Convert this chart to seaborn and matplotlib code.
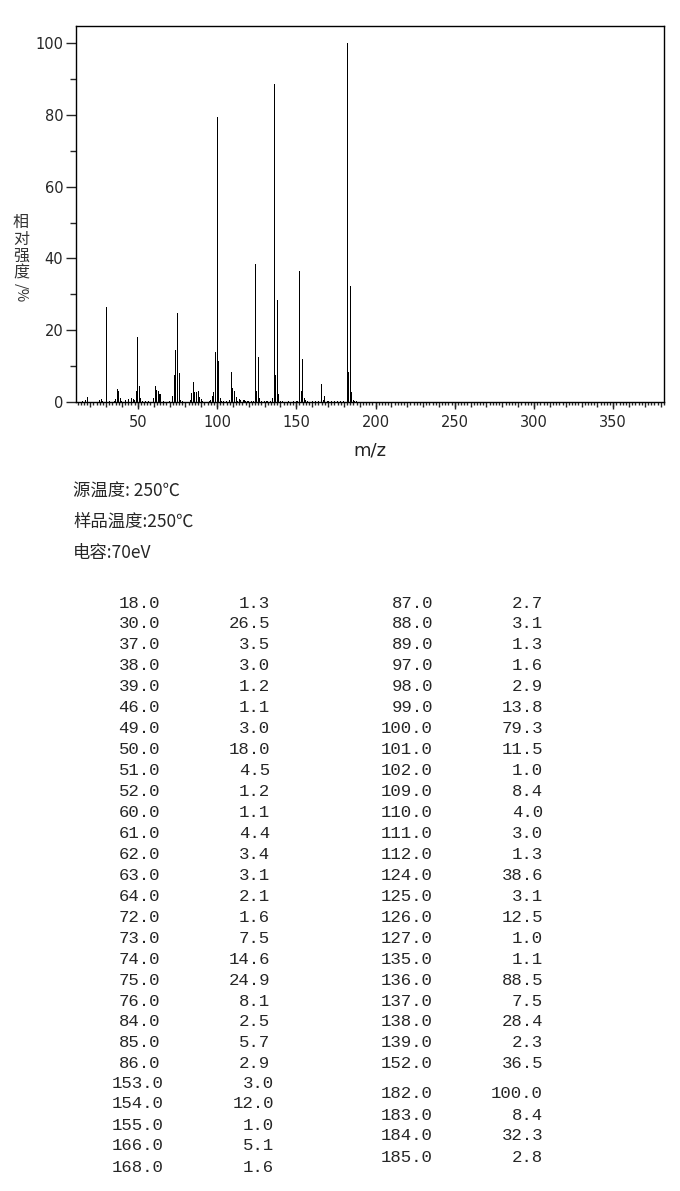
import numpy as np
import pandas as pd
import matplotlib
matplotlib.use("Agg")
import matplotlib.pyplot as plt
from matplotlib.ticker import MultipleLocator, FixedLocator, NullFormatter
import seaborn as sns

# listed peaks (table), left column
left_mz = [18, 30, 37, 38, 39, 46, 49, 50, 51, 52, 60, 61, 62, 63, 64, 72, 73, 74, 75, 76, 84, 85, 86]
left_int = [1.3, 26.5, 3.5, 3.0, 1.2, 1.1, 3.0, 18.0, 4.5, 1.2, 1.1, 4.4, 3.4, 3.1, 2.1, 1.6, 7.5, 14.6, 24.9, 8.1, 2.5, 5.7, 2.9]
# right column
right_mz = [87, 88, 89, 97, 98, 99, 100, 101, 102, 109, 110, 111, 112, 124, 125, 126, 127, 135, 136, 137, 138, 139, 152]
right_int = [2.7, 3.1, 1.3, 1.6, 2.9, 13.8, 79.3, 11.5, 1.0, 8.4, 4.0, 3.0, 1.3, 38.6, 3.1, 12.5, 1.0, 1.1, 88.5, 7.5, 28.4, 2.3, 36.5]
# trailing blocks
tail_left_mz = [153, 154, 155, 166, 168]
tail_left_int = [3.0, 12.0, 1.0, 5.1, 1.6]
tail_right_mz = [182, 183, 184, 185]
tail_right_int = [100.0, 8.4, 32.3, 2.8]

# small unlisted peaks seen on the spectrum (estimated)
minor_mz = [15, 17, 26, 27, 28, 32, 35, 36, 40, 42, 44, 47, 48, 53, 55, 57, 66, 70, 77, 78, 83,
            90, 91, 95, 96, 103, 104, 106, 108, 113, 114, 115, 117, 118, 119, 120, 122, 123,
            128, 130, 131, 132, 134, 140, 141, 145, 148, 150, 151, 156, 157, 160, 162, 164,
            167, 170, 172, 174, 176, 178, 180, 186, 187, 188]
minor_int = [0.4, 0.5, 0.5, 0.7, 0.4, 0.3, 0.3, 0.8, 0.4, 0.6, 0.9, 0.8, 0.6, 0.4, 0.3, 0.3, 0.4, 0.4, 0.5, 0.3, 0.5,
             0.7, 0.4, 0.4, 0.5, 0.4, 0.3, 0.3, 0.6, 0.4, 0.9, 0.5, 0.5, 0.3, 0.4, 0.4, 0.3, 0.4,
             0.3, 0.3, 0.4, 0.3, 0.4, 0.4, 0.3, 0.3, 0.4, 0.3, 0.4, 0.5, 0.3, 0.3, 0.4, 0.3,
             0.6, 0.3, 0.4, 0.3, 0.3, 0.4, 0.3, 0.5, 0.4, 0.3]

W, H = 680, 1191

sns.set_style("ticks")
plt.rcParams['font.family'] = ['DejaVu Sans', 'Noto Sans CJK SC']

df = pd.DataFrame({
    "mz": left_mz + right_mz + tail_left_mz + tail_right_mz + minor_mz,
    "inten": left_int + right_int + tail_left_int + tail_right_int + minor_int,
}).sort_values("mz")

fig = plt.figure(figsize=(W / 100, H / 100), dpi=100)
ax = fig.add_axes([76 / W, 1 - 402 / H, (664 - 76) / W, (402 - 26) / H])

sns.barplot(data=df, x="mz", y="inten", native_scale=True, color="black",
            width=0.65, linewidth=0, errorbar=None, antialiased=False, ax=ax)

ax.set_xlim(11, 382)
ax.set_ylim(0, 104.8)
for s in ax.spines.values():
    s.set_color("black")
    s.set_linewidth(1)

px = 0.72  # points per pixel
ax.yaxis.set_major_locator(MultipleLocator(20))
ax.yaxis.set_minor_locator(MultipleLocator(10))
ax.tick_params(axis="y", which="major", length=10 * px, width=1, labelsize=10.5, pad=2)
ax.tick_params(axis="y", which="minor", length=6 * px, width=1)

ax.xaxis.set_major_locator(MultipleLocator(10))
ax.xaxis.set_minor_locator(MultipleLocator(2))
ax.xaxis.set_major_formatter(NullFormatter())
ax.tick_params(axis="x", which="major", length=4.5 * px, width=1)
ax.tick_params(axis="x", which="minor", length=3 * px, width=1)

sec = ax.secondary_xaxis("bottom")
sec.xaxis.set_major_locator(FixedLocator([50, 100, 150, 200, 250, 300, 350]))
sec.tick_params(length=7 * px, width=1, labelsize=10.5, pad=4)
sec.spines["bottom"].set_visible(False)

ax.set_xlabel("")
ax.set_ylabel("")


def fx(x):
    return x / W


def fy(y):
    return 1 - y / H


fig.text(fx(370), fy(450), "m/z", ha="center", va="center", fontsize=13, color="#222222")

cjk = ['Noto Sans CJK SC', 'DejaVu Sans']
for i, ch in enumerate("相对强度"):
    fig.text(fx(21), fy(222 + i * 17), ch, ha="center", va="center", fontsize=11.5,
             family=cjk, color="#333333")
fig.text(fx(21), fy(293), "/%", ha="center", va="center", fontsize=10.5, rotation=-90,
         family=cjk, color="#333333")

fig.text(fx(73), fy(492), "源温度: 250℃", ha="left", va="center", fontsize=12.5, family=cjk)
fig.text(fx(73), fy(522), "样品温度:250℃", ha="left", va="center", fontsize=12.5, family=cjk)
fig.text(fx(73), fy(553), "电容:70eV", ha="left", va="center", fontsize=12.5, family=cjk)

mono = dict(ha="right", va="center", fontsize=12.5, family="Liberation Mono")


def table_block(mzs, vals, x_mz, x_val, y0, step):
    for i, (m, v) in enumerate(zip(mzs, vals)):
        y = y0 + i * step
        fig.text(fx(x_mz), fy(y), f"{m:.1f}", **mono)
        fig.text(fx(x_val), fy(y), f"{v:.1f}", **mono)


table_block(left_mz, left_int, 160, 270, 603, 20.95)
table_block(right_mz, right_int, 433, 543, 603, 20.95)
table_block(tail_left_mz, tail_left_int, 164, 274, 1083, 21)
table_block(tail_right_mz, tail_right_int, 433, 543, 1094, 21)

fig.savefig("out.png", dpi=100)
